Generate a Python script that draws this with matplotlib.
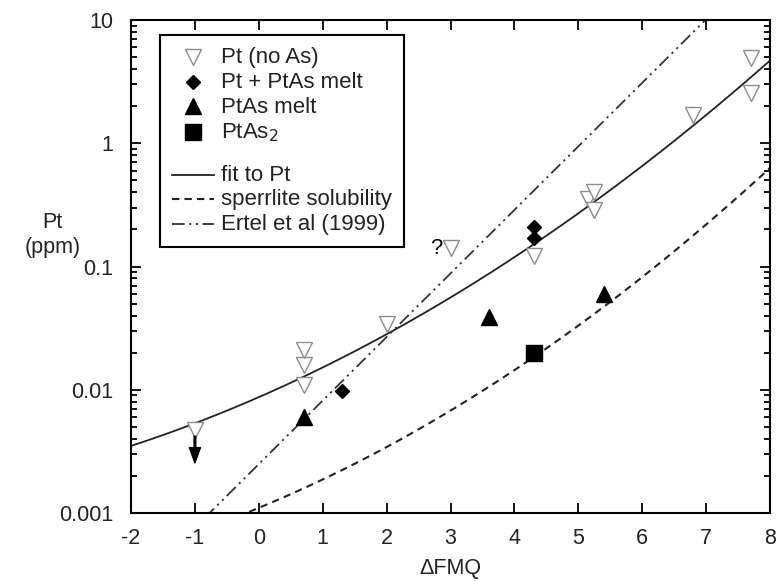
import numpy as np
import matplotlib
matplotlib.use("Agg")
import matplotlib.pyplot as plt
from matplotlib.lines import Line2D
from matplotlib.ticker import LogLocator, FixedFormatter, FixedLocator

plt.rcParams['font.family'] = ['Liberation Sans', 'DejaVu Sans']
plt.rcParams['axes.unicode_minus'] = False

# Pt (no As)
pt_x = [-1.0, 0.7, 0.7, 0.7, 2.0, 3.0, 4.3, 5.15, 5.25, 5.25, 6.8, 7.7, 7.7]
pt_y = [0.0047, 0.011, 0.016, 0.021, 0.034, 0.14, 0.122, 0.35, 0.40, 0.29, 1.7, 4.9, 2.55]

# Pt + PtAs melt
ptm_x = [1.3, 4.3, 4.3]
ptm_y = [0.0097, 0.21, 0.17]

# PtAs melt
melt_x = [0.7, 3.6, 5.4]
melt_y = [0.006, 0.039, 0.060]

# PtAs2
as2_x = [4.3]
as2_y = [0.0197]

# curve coefficients, log10(Pt) = a + b*x + c*x^2
fit_coef = [-2.06, 0.2265, 0.01435]
sperr_coef = [-2.958, 0.2139, 0.01635]
ertel_coef = [-2.603, 0.5155, 0.0]

xs = np.linspace(-2, 8, 300)


def curve(coef, x):
    return 10 ** (coef[0] + coef[1] * x + coef[2] * x ** 2)


fig = plt.figure(figsize=(7.77, 5.81), dpi=100)
ax = fig.add_axes([0.1686, 0.117, 0.8224, 0.8486])

ax.plot(xs, curve(fit_coef, xs), color='#222222', lw=1.3, zorder=2)
ax.plot(xs, curve(sperr_coef, xs), color='#222222', lw=1.5,
        dashes=(3.5, 2.5), zorder=2)
ax.plot(xs, curve(ertel_coef, xs), color='#333333', lw=1.3,
        dashes=(7, 2.5, 1.2, 2.5, 1.2, 2.5), zorder=2)

ax.plot(pt_x, pt_y, 'v', ms=11, mfc='white', mec='#8c8c8c', mew=1.0,
        ls='none', zorder=3)
ax.plot(ptm_x, ptm_y, 'D', ms=7, color='black', ls='none', zorder=4)
ax.plot(melt_x, melt_y, '^', ms=11, color='black', ls='none', zorder=4)
ax.plot(as2_x, as2_y, 's', ms=12, color='black', ls='none', zorder=4)

# upper-limit arrow and question mark
ax.annotate('', xy=(-1.0, 0.00255), xytext=(-1.0, 0.0042),
            arrowprops=dict(facecolor='black', edgecolor='black', width=1.2,
                            headwidth=8, headlength=11, shrink=0))
ax.text(2.78, 0.14, '?', fontsize=16, ha='center', va='center')

ax.set_xlim(-2, 8)
ax.set_yscale('log')
ax.set_ylim(0.001, 10)

ax.xaxis.set_major_locator(FixedLocator(range(-2, 9)))
ax.yaxis.set_major_locator(FixedLocator([0.001, 0.01, 0.1, 1, 10]))
ax.yaxis.set_major_formatter(FixedFormatter(['0.001', '0.01', '0.1', '1', '10']))
ax.yaxis.set_minor_locator(LogLocator(base=10, subs=np.arange(2, 10)))
ax.tick_params(which='both', direction='in', top=True, right=True,
               labelsize=15.5, width=1.3, labelcolor='#222222')
ax.tick_params(which='major', length=7)
ax.tick_params(which='minor', length=4)
ax.tick_params(axis='x', which='major', pad=11)
ax.tick_params(axis='y', which='major', pad=13)
for s in ax.spines.values():
    s.set_linewidth(1.5)

ax.set_xlabel('ΔFMQ', fontsize=15.5, labelpad=6, color='#222222')
fig.text(0.068, 0.5955, 'Pt\n(ppm)', fontsize=15.5, ha='center', va='center',
         linespacing=1.2, color='#222222')

handles = [
    Line2D([], [], marker='v', ms=11, mfc='white', mec='#8c8c8c', ls='none'),
    Line2D([], [], marker='D', ms=7, color='black', ls='none'),
    Line2D([], [], marker='^', ms=11, color='black', ls='none'),
    Line2D([], [], marker='s', ms=11, color='black', ls='none'),
    Line2D([], [], ls='none'),  # spacer row
    Line2D([], [], color='#222222', lw=1.3),
    Line2D([], [], color='#222222', lw=1.5, dashes=(3.5, 2.5)),
    Line2D([], [], color='#333333', lw=1.3, dashes=(7, 2.5, 1.2, 2.5, 1.2, 2.5)),
]
labels = ['Pt (no As)', 'Pt + PtAs melt', 'PtAs melt', 'PtAs$_2$', ' ',
          'fit to Pt', 'sperrlite solubility', 'Ertel et al (1999)']
leg = ax.legend(handles, labels, loc='upper left', bbox_to_anchor=(0.045, 0.97),
                borderaxespad=0, fontsize=16, handlelength=1.9, handleheight=0.2,
                handletextpad=0.3, labelspacing=0.17, borderpad=0.55,
                fancybox=False, framealpha=1, edgecolor='black')
leg.get_frame().set_linewidth(1.5)
for t in leg.get_texts():
    t.set_color('#222222')
leg.get_texts()[4].set_fontsize(3.5)

fig.savefig('out.png', dpi=100)
